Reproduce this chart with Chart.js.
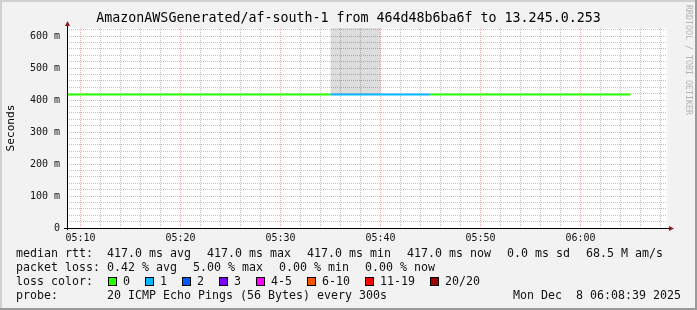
<!DOCTYPE html>
<html>
<head>
<meta charset="utf-8">
<script src="https://cdn.jsdelivr.net/npm/chart.js@4/dist/chart.umd.min.js"></script>
<style>
html, body { margin: 0; padding: 0; background: #f2f2f2; }
canvas { display: block; }
</style>
</head>
<body>
<canvas id="chart" width="697" height="310"></canvas>
<script>
// time window of the graph (05:08:39 -> 06:08:39)
var windowStart = '05:08:39'
var windowEnd = '06:08:39'
var stepMinutes = 5

// one entry per 5 minute sample, the time is the end of the sample
var sampleEnds = ['05:10', '05:15', '05:20', '05:25', '05:30', '05:35', '05:40', '05:45', '05:50', '05:55', '06:00', '06:05']
var medianRtt = [417.0, 417.0, 417.0, 417.0, 417.0, 417.0, 417.0, 417.0, 417.0, 417.0, 417.0, 417.0]   // ms
var minRtt = [417.0, 417.0, 417.0, 417.0, 417.0, 417.0, 417.0, 417.0, 417.0, 417.0, 417.0, 417.0]
var maxRtt = [417.0, 417.0, 417.0, 417.0, 417.0, 417.0, 900.0, 417.0, 417.0, 417.0, 417.0, 417.0]
var lossCount = [0, 0, 0, 0, 0, 0, 1, 1, 0, 0, 0, 0]

var lossLabels = ['0', '1', '2', '3', '4-5', '6-10', '11-19', '20/20']
var lossLimits = [0, 1, 2, 3, 5, 10, 19, 20]
var lossColors = ['#26ff00', '#00b8ff', '#0059ff', '#7e00ff', '#ff00ff', '#ff5500', '#ff0000', '#a00000']

var xTickLabels = ['05:10', '05:20', '05:30', '05:40', '05:50', '06:00']
var yTickValues = [0, 100, 200, 300, 400, 500, 600]
var yTickLabels = ['0', '100 m', '200 m', '300 m', '400 m', '500 m', '600 m']
var yMax = 625

var title = 'AmazonAWSGenerated/af-south-1 from 464d48b6ba6f to 13.245.0.253'
var rttStats = ['417.0 ms avg', '417.0 ms max', '417.0 ms min', '417.0 ms now', '0.0 ms sd', '68.5 M am/s']
var lossStats = ['0.42 % avg', '5.00 % max', '0.00 % min', '0.00 % now']
var probeText = '20 ICMP Echo Pings (56 Bytes) every 300s'
var stampText = 'Mon Dec  8 06:08:39 2025'

var mono = "'DejaVu Sans Mono', monospace"

// minutes after 05:00
function toMinutes(t) {
    var p = t.split(':')
    var m = (parseInt(p[0], 10) - 5) * 60 + parseInt(p[1], 10)
    if (p.length > 2) m += parseInt(p[2], 10) / 60
    return m
}

function lossColor(n) {
    for (var i = 0; i < lossLimits.length; i++) {
        if (n <= lossLimits[i]) return lossColors[i]
    }
    return lossColors[lossColors.length - 1]
}

// stepped series: a point at the start of every sample plus the end of the last one
function stepped(values) {
    var pts = []
    sampleEnds.forEach(function (t, i) {
        pts.push({ x: toMinutes(t) - stepMinutes, y: values[i] })
    })
    var last = sampleEnds.length - 1
    pts.push({ x: toMinutes(sampleEnds[last]), y: values[last] })
    return pts
}

// same thing with both corners of every sample, for the filled smoke
function boxed(values) {
    var pts = []
    sampleEnds.forEach(function (t, i) {
        pts.push({ x: toMinutes(t) - stepMinutes, y: values[i] })
        pts.push({ x: toMinutes(t), y: values[i] })
    })
    return pts
}

var xLabelAt = {}
xTickLabels.forEach(function (l) { xLabelAt[toMinutes(l)] = l })
var yLabelAt = {}
yTickValues.forEach(function (v, i) { yLabelAt[v] = yTickLabels[i] })

var minorX = []
for (var m = 10; m <= 68; m += 2) minorX.push(m)
var minorY = []
for (var v = 0; v <= 620; v += 20) minorY.push(v)

var gridMinor = '#c4c4c4'
var gridMajor = '#f2aaaa'

var rrdLook = {
    id: 'rrdLook',
    beforeDraw: function (chart) {
        var ctx = chart.ctx
        var a = chart.chartArea
        var W = chart.width, H = chart.height
        ctx.save()
        ctx.fillStyle = '#f2f2f2'
        ctx.fillRect(0, 0, W, H)
        ctx.fillStyle = '#d0d0d0'
        ctx.fillRect(0, 0, W, 2)
        ctx.fillRect(0, 0, 2, H)
        ctx.fillStyle = '#9a9a9a'
        ctx.fillRect(0, H - 2, W, 2)
        ctx.fillRect(W - 2, 0, 2, H)
        ctx.fillStyle = '#ffffff'
        ctx.fillRect(a.left, a.top, a.right - a.left, a.bottom - a.top)
        ctx.restore()
    },
    afterDraw: function (chart) {
        var ctx = chart.ctx
        var a = chart.chartArea
        ctx.save()

        // axes with arrows
        ctx.fillStyle = '#000'
        ctx.fillRect(a.left, a.top - 6, 1, a.bottom - a.top + 8)
        ctx.fillRect(a.left - 3, a.bottom, a.right - a.left + 5, 1)
        ctx.fillStyle = '#8b1a1a'
        ctx.beginPath()
        ctx.moveTo(a.left + 0.5, a.top - 7)
        ctx.lineTo(a.left + 3, a.top - 2)
        ctx.lineTo(a.left - 2, a.top - 2)
        ctx.closePath()
        ctx.fill()
        ctx.beginPath()
        ctx.moveTo(a.right + 7, a.bottom + 0.5)
        ctx.lineTo(a.right + 2, a.bottom + 3)
        ctx.lineTo(a.right + 2, a.bottom - 2)
        ctx.closePath()
        ctx.fill()

        // title
        ctx.fillStyle = '#000'
        ctx.textBaseline = 'middle'
        ctx.textAlign = 'center'
        ctx.font = '13.3px ' + mono
        ctx.fillText(title, chart.width / 2, 19)

        // y axis title
        ctx.save()
        ctx.translate(11, 128)
        ctx.rotate(-Math.PI / 2)
        ctx.font = '11.2px ' + mono
        ctx.fillText('Seconds', 0, 0)
        ctx.restore()

        // credit on the right edge
        ctx.save()
        ctx.translate(688, 5)
        ctx.rotate(Math.PI / 2)
        ctx.textAlign = 'left'
        ctx.fillStyle = '#b4b4b4'
        ctx.font = '8.3px ' + mono
        ctx.fillText('RRDTOOL / TOBI OETIKER', 0, 0)
        ctx.restore()

        // legend lines
        var cw = 7
        ctx.font = '11.63px ' + mono
        ctx.textAlign = 'left'
        ctx.fillStyle = '#111'
        ctx.fillText('median rtt:', 16, 254)
        var x = 107
        rttStats.forEach(function (s) {
            ctx.fillText(s, x, 254)
            x += s.length * cw + 16
        })
        ctx.fillText('packet loss:', 16, 268)
        x = 107
        lossStats.forEach(function (s) {
            ctx.fillText(s, x, 268)
            x += s.length * cw + 16
        })
        ctx.fillText('loss color:', 16, 282)
        x = 108
        lossLabels.forEach(function (l, i) {
            ctx.fillStyle = lossColors[i]
            ctx.fillRect(x, 278, 8, 8)
            ctx.strokeStyle = '#000'
            ctx.lineWidth = 1
            ctx.strokeRect(x + 0.5, 277.5, 8, 8)
            ctx.fillStyle = '#111'
            ctx.fillText(l, x + 15, 282)
            x += 15 + l.length * cw + 15
        })
        ctx.fillText('probe:', 16, 296)
        ctx.fillText(probeText, 107, 296)
        ctx.textAlign = 'right'
        ctx.fillText(stampText, 681, 296)
        ctx.restore()
    }
}

var context = document.getElementById('chart').getContext('2d')
var chart = new Chart(context, {
    type: 'line',
    data: {
        datasets: [{
            label: 'median rtt',
            data: stepped(medianRtt),
            stepped: 'after',
            borderWidth: 2,
            borderCapStyle: 'butt',
            pointRadius: 0,
            fill: false,
            segment: {
                borderColor: function (ctx) { return lossColor(lossCount[ctx.p0DataIndex]) }
            }
        }, {
            label: 'min rtt',
            data: boxed(minRtt),
            borderWidth: 0,
            borderColor: 'rgba(0,0,0,0)',
            pointRadius: 0,
            fill: false
        }, {
            label: 'max rtt',
            data: boxed(maxRtt),
            borderWidth: 0,
            borderColor: 'rgba(0,0,0,0)',
            backgroundColor: 'rgba(0,0,0,0.135)',
            pointRadius: 0,
            fill: '-1'
        }]
    },
    options: {
        responsive: false,
        animation: false,
        events: [],
        layout: { padding: { left: 0, right: 30, top: 28, bottom: 62 } },
        plugins: {
            legend: { display: false },
            tooltip: { enabled: false }
        },
        scales: {
            x: {
                type: 'linear',
                min: toMinutes(windowStart),
                max: toMinutes(windowEnd),
                afterBuildTicks: function (s) { s.ticks = minorX.map(function (v) { return { value: v } }) },
                afterFit: function (s) { s.height = 20 },
                grid: {
                    drawTicks: false,
                    lineWidth: 1,
                    color: function (ctx) { return xLabelAt[ctx.tick.value] ? gridMajor : gridMinor }
                },
                border: { display: false, dash: [1, 1] },
                ticks: {
                    autoSkip: false,
                    maxRotation: 0,
                    padding: 4,
                    color: '#111',
                    font: { family: mono, size: 10 },
                    callback: function (v) { return xLabelAt[v] || '' }
                }
            },
            y: {
                type: 'linear',
                min: 0,
                max: yMax,
                afterBuildTicks: function (s) { s.ticks = minorY.map(function (v) { return { value: v } }) },
                afterFit: function (s) { s.width = 67 },
                grid: {
                    drawTicks: false,
                    lineWidth: 1,
                    color: function (ctx) { return yLabelAt[ctx.tick.value] !== undefined ? gridMajor : gridMinor }
                },
                border: { display: false, dash: [1, 1] },
                ticks: {
                    autoSkip: false,
                    padding: 7,
                    color: '#111',
                    font: { family: mono, size: 10 },
                    callback: function (v) { return yLabelAt[v] !== undefined ? yLabelAt[v] : '' }
                }
            }
        }
    },
    plugins: [rrdLook]
})
</script>
</body>
</html>
